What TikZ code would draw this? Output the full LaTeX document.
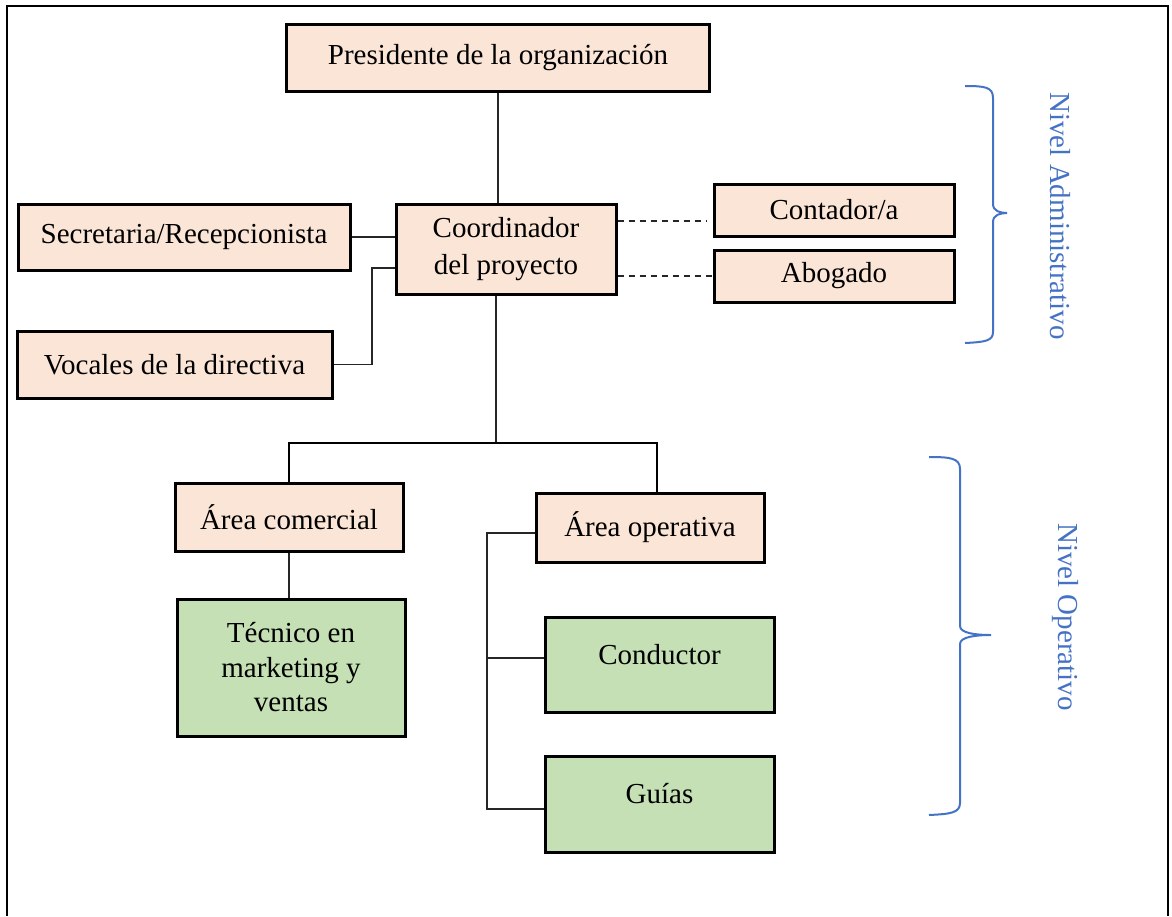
\documentclass[tikz,border=0pt]{standalone}
\usepackage{fontspec}
\setmainfont{Liberation Serif}
\definecolor{peach}{HTML}{FBE5D6}
\definecolor{leaf}{HTML}{C5E0B4}
\definecolor{nivel}{HTML}{4472C4}
\begin{document}
\begin{tikzpicture}[x=1pt, y=-1pt, font=\fontsize{29}{37}\selectfont,
          ob/.style={draw, line width=3pt, align=center, inner sep=0pt},
          pb/.style={ob, fill=peach},
          gb/.style={ob, fill=leaf},
          ln/.style={line width=1.7pt, draw=black!85},
          brc/.style={line width=2pt, draw=nivel},
          lvl/.style={text=nivel, rotate=-90}]
        \useasboundingbox (0,0) rectangle (1172,916);
        \draw[line width=2.8pt] (7,916) -- (7,6) -- (1168,6) -- (1168,916);
        % administrative level
        \node[pb, minimum width=423, minimum height=67] (pres) at (498,57.5) {Presidente de la organización};
        \node[pb, minimum width=220, minimum height=90] (coord) at (506,249) {Coordinador\\del proyecto};
        \node[pb, minimum width=332, minimum height=66] (sec) at (184,237) {Secretaria/Recepcionista};
        \node[pb, minimum width=315, minimum height=67] (voc) at (174.5,364.5) {Vocales de la directiva};
        \node[pb, minimum width=240, minimum height=52] (cont) at (834,210) {Contador/a};
        \node[pb, minimum width=240, minimum height=52] (abo) at (834,276) {Abogado};
        % operative level
        \node[pb, minimum width=228, minimum height=68] (com) at (289,517) {Área comercial};
        \node[pb, minimum width=228, minimum height=69] (ope) at (650,527.5) {Área operativa};
        \node[gb, minimum width=228, minimum height=137, font=\fontsize{29}{34.5}\selectfont] (tec) at (291,667.5) {Técnico en\\marketing y\\ventas};
        \node[gb, minimum width=229, minimum height=95, text depth=21pt] (cond) at (659.5,664.5) {Conductor};
        \node[gb, minimum width=229, minimum height=96, text depth=21pt] (gui) at (659.5,804) {Guías};
        % connectors
        \coordinate (vk) at (372,268);
        \coordinate (d1) at (707,221);
        \coordinate (br) at (496,443);
        \coordinate (br2) at (657,443);
        \coordinate (op) at (487,533);
        \coordinate (og) at (487,809);
        \coordinate (oc) at (487,658);
        \draw[ln] (pres.south) -- (pres.south |- coord.north);
        \draw[ln] (sec.east) -- (sec.east -| coord.west);
        \draw[ln] (voc.east) -| (vk) -- (vk -| coord.west);
        \draw[ln, dashed, dash pattern=on 6pt off 5pt] (d1 -| coord.east) -- (d1);
        \draw[ln, dashed, dash pattern=on 6pt off 5pt] (abo.west -| coord.east) -- (abo.west);
        \draw[ln] (coord.south -| br) -- (br);
        \draw[ln, line width=2.6pt, draw=black] (com.north) |- (br2) -- (br2 |- ope.north);
        \draw[ln] (com.south) -- (com.south |- tec.north);
        \draw[ln, line width=2.2pt] (ope.west |- op) -- (op) -- (og) -- (og -| gui.west);
        \draw[ln, line width=2.2pt] (oc) -- (oc -| cond.west);
        % braces
        \draw[brc] (965,86) .. controls (985,86) and (993,87) .. (993,98) -- (993,204)
          .. controls (993,211) and (1000,213) .. (1007,213)
          .. controls (1000,213) and (993,215) .. (993,222) -- (993,332)
          .. controls (993,341) and (985,342) .. (965,343);
        \draw[brc] (929,457) .. controls (950,457) and (960,458) .. (960,469) -- (960,626)
          .. controls (960,633) and (975,635) .. (991,635)
          .. controls (975,635) and (960,637) .. (960,644) -- (960,803)
          .. controls (960,813) and (950,814) .. (929,815);
        \node[lvl] (niva) at (1060,216) {Nivel Administrativo};
        \node[lvl] (nivo) at (1065,617) {Nivel Operativo};
      \end{tikzpicture}
\end{document}
